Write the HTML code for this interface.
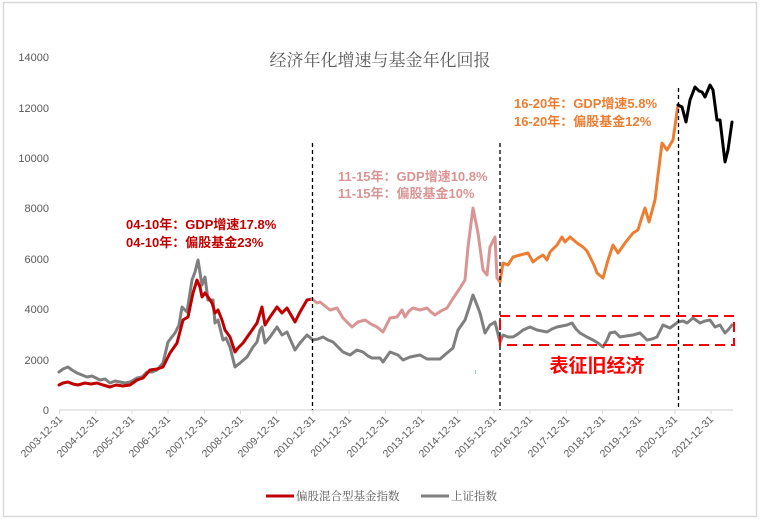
<!DOCTYPE html>
<html><head><meta charset="utf-8"><style>
html,body{margin:0;padding:0;background:#fff}
svg{display:block}
text{font-family:"Liberation Sans","Noto Sans CJK SC",sans-serif}
</style></head><body>
<svg width="760" height="520" viewBox="0 0 760 520" xmlns="http://www.w3.org/2000/svg">
<rect x="3.5" y="2.5" width="753" height="514" fill="#fff" stroke="#d9d9d9" stroke-width="1.5"/>
<text x="380" y="66" text-anchor="middle" font-size="17" fill="#595959" style="font-family:'Noto Serif CJK SC','Liberation Serif',serif">经济年化增速与基金年化回报</text>
<g font-size="11" fill="#595959" text-anchor="end">
<text x="49" y="414">0</text><text x="49" y="364">2000</text><text x="49" y="313">4000</text><text x="49" y="263">6000</text><text x="49" y="212">8000</text><text x="49" y="162">10000</text><text x="49" y="112">12000</text><text x="49" y="61">14000</text>
</g>
<line x1="59" y1="410" x2="733" y2="410" stroke="#d9d9d9" stroke-width="1.2"/>
<g stroke="#d9d9d9" stroke-width="1">
<line x1="59.5" y1="410" x2="59.5" y2="414"/><line x1="95.7" y1="410" x2="95.7" y2="414"/><line x1="131.9" y1="410" x2="131.9" y2="414"/><line x1="168.1" y1="410" x2="168.1" y2="414"/><line x1="204.3" y1="410" x2="204.3" y2="414"/><line x1="240.5" y1="410" x2="240.5" y2="414"/><line x1="276.7" y1="410" x2="276.7" y2="414"/><line x1="312.9" y1="410" x2="312.9" y2="414"/><line x1="349.1" y1="410" x2="349.1" y2="414"/><line x1="385.3" y1="410" x2="385.3" y2="414"/><line x1="421.5" y1="410" x2="421.5" y2="414"/><line x1="457.7" y1="410" x2="457.7" y2="414"/><line x1="493.9" y1="410" x2="493.9" y2="414"/><line x1="530.1" y1="410" x2="530.1" y2="414"/><line x1="566.3" y1="410" x2="566.3" y2="414"/><line x1="602.5" y1="410" x2="602.5" y2="414"/><line x1="638.7" y1="410" x2="638.7" y2="414"/><line x1="674.9" y1="410" x2="674.9" y2="414"/><line x1="711.1" y1="410" x2="711.1" y2="414"/>
</g>
<g font-size="10.5" fill="#595959" text-anchor="end">
<text transform="translate(63,420) rotate(-45)">2003-12-31</text>
<text transform="translate(99,420) rotate(-45)">2004-12-31</text>
<text transform="translate(135,420) rotate(-45)">2005-12-31</text>
<text transform="translate(171,420) rotate(-45)">2006-12-31</text>
<text transform="translate(208,420) rotate(-45)">2007-12-31</text>
<text transform="translate(244,420) rotate(-45)">2008-12-31</text>
<text transform="translate(280,420) rotate(-45)">2009-12-31</text>
<text transform="translate(316,420) rotate(-45)">2010-12-31</text>
<text transform="translate(352,420) rotate(-45)">2011-12-31</text>
<text transform="translate(389,420) rotate(-45)">2012-12-31</text>
<text transform="translate(425,420) rotate(-45)">2013-12-31</text>
<text transform="translate(461,420) rotate(-45)">2014-12-31</text>
<text transform="translate(497,420) rotate(-45)">2015-12-31</text>
<text transform="translate(533,420) rotate(-45)">2016-12-31</text>
<text transform="translate(570,420) rotate(-45)">2017-12-31</text>
<text transform="translate(606,420) rotate(-45)">2018-12-31</text>
<text transform="translate(642,420) rotate(-45)">2019-12-31</text>
<text transform="translate(678,420) rotate(-45)">2020-12-31</text>
<text transform="translate(714,420) rotate(-45)">2021-12-31</text>
</g>
<line x1="475.5" y1="370" x2="475.5" y2="374" stroke="#9dc3e6" stroke-width="1"/>
<g fill="none" stroke-width="3" stroke-linejoin="round" stroke-linecap="round">
<polyline stroke="#7f7f7f" points="59,372 63,369 68,367 72,370 77,373 82,375 87,377 92,376 100,380 105,379 110,383 115,381 120,382 125,383 130,382 137,378 142,377 147,372 152,372 157,370 163,363 168,342 175,333 179,325 182,307 187,312 192,280 195,272 198,260 202,285 205,277 208,300 213,300 215,323 218,320 223,340 226,338 230,347 235,367 240,363 247,357 253,347 257,342 260,330 262,327 265,343 270,337 277,327 282,335 287,332 291,341 295,350 300,343 307,335 313,340 318,339 323,337 328,340 333,342 338,347 343,352 350,355 357,350 363,352 368,356 372,358 380,358 383,362 390,352 398,355 403,360 410,357 420,355 427,359 440,359 447,353 453,348 458,330 465,320 469,308 473,295 477,305 480,313 485,333 490,325 495,322 500,342 503,335 508,337 513,337 518,334 523,330 530,327 537,330 547,332 552,329 557,327 567,325 572,323 576,329 580,333 587,337 593,340 598,343 603,347 607,340 610,333 615,332 620,337 626,336 633,335 640,333 647,340 652,339 657,337 663,325 670,328 674,325 678,322 683,321 687,323 693,318 700,323 705,321 710,320 715,327 720,325 725,333 728,330 732,325"/>
<polyline stroke="#c00000" points="59,385 63,383 68,382 73,384 78,385 85,383 91,384 97,383 103,385 110,387 116,385 123,386 130,385 137,380 143,378 150,370 157,369 163,367 170,353 177,343 183,320 188,317 193,293 197,280 200,287 202,297 205,293 208,297 212,303 215,313 218,310 222,320 225,330 230,337 235,352 238,348 243,343 250,333 257,323 262,307 265,325 270,317 277,307 282,313 287,308 291,315 295,322 300,312 307,300 312,299"/>
<polyline stroke="#d99594" points="312,299 317,303 320,302 325,306 330,310 337,308 343,318 348,323 352,327 358,322 365,320 371,324 377,327 383,332 390,318 397,317 402,310 405,317 409,311 413,308 420,310 427,308 431,312 435,315 441,311 447,308 452,300 456,294 460,288 465,280 468,247 473,208 478,233 483,270 487,275 490,247 495,237 497,278 500,282"/>
<polyline stroke="#ed7d31" points="500,282 503,263 508,265 513,257 520,255 528,253 533,262 538,258 543,255 547,260 550,252 557,245 562,237 565,242 570,237 577,243 583,247 587,251 590,257 594,265 597,273 603,278 608,260 613,245 618,253 625,243 633,233 638,230 641,220 645,208 649,222 655,200 658,175 662,143 667,150 673,140 678,105"/>
<polyline stroke="#000" points="678,105 682,107 686,122 690,100 695,87 699,91 702,92 705,97 710,85 713,90 717,120 720,120 725,162 728,150 732,122"/>
</g>
<g stroke="#000" stroke-width="1.3" stroke-dasharray="4,3">
<line x1="312.5" y1="143" x2="312.5" y2="410"/>
<line x1="500" y1="143" x2="500" y2="410"/>
<line x1="678.5" y1="88" x2="678.5" y2="410"/>
</g>
<rect x="500" y="316" width="234" height="29" fill="none" stroke="#ff0000" stroke-width="2" stroke-dasharray="10,6"/>
<text x="597" y="372" text-anchor="middle" font-size="19" font-weight="bold" fill="#ff0000">表征旧经济</text>
<g font-size="13" font-weight="bold">
<text x="126" y="229" fill="#c00000">04-10年：GDP增速17.8%</text>
<text x="126" y="247" fill="#c00000">04-10年：偏股基金23%</text>
<text x="338" y="181" fill="#d99594">11-15年：GDP增速10.8%</text>
<text x="338" y="198" fill="#d99594">11-15年：偏股基金10%</text>
<text x="514" y="108" fill="#ed7d31">16-20年：GDP增速5.8%</text>
<text x="514" y="126" fill="#ed7d31">16-20年：偏股基金12%</text>
</g>
<line x1="266" y1="496" x2="294" y2="496" stroke="#c00000" stroke-width="3"/>
<text x="296" y="500" font-size="11.5" fill="#595959" style="font-family:'Noto Serif CJK SC',serif">偏股混合型基金指数</text>
<line x1="421" y1="496" x2="449" y2="496" stroke="#7f7f7f" stroke-width="3"/>
<text x="451" y="500" font-size="11.5" fill="#595959" style="font-family:'Noto Serif CJK SC',serif">上证指数</text>
</svg>
</body></html>
